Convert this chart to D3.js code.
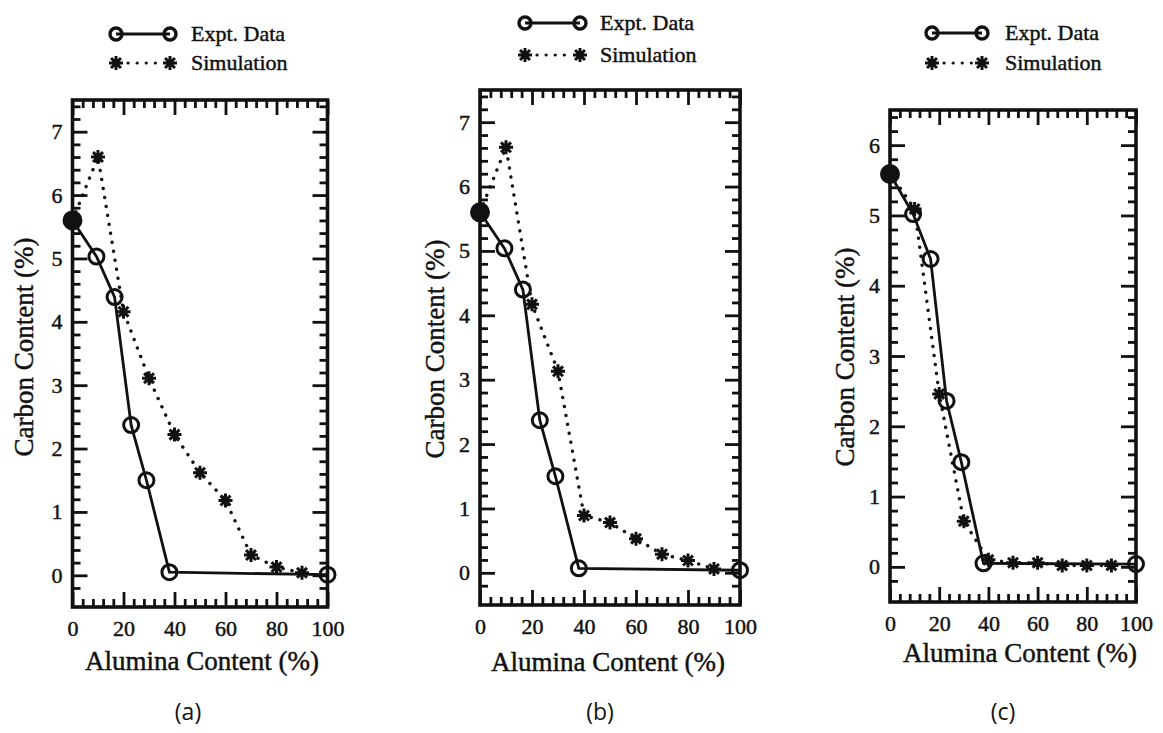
<!DOCTYPE html>
<html>
  <head>
    <title>Carbon vs Alumina Content</title>
    <script src="https://d3js.org/d3.v7.min.js"></script>
    <style>
      body { margin: 0; background: #fff; }
      svg text { font-family: "Liberation Serif", "Times New Roman", serif; fill: #111; }
      svg text.serif { stroke: #111; stroke-width: 0.45; }
      svg text.caption { font-family: "Open Sans", sans-serif; }
    </style>
  </head>
<body>
<svg id="visual" width="1163" height="733" font-family="Liberation Serif"></svg>
<script type="text/javascript">
    // data
    var exptX = [0, 9.4, 16.5, 23, 29, 38, 100];
    var exptA = [5.6, 5.03, 4.39, 2.37, 1.5, 0.05, 0.01];
    var exptB = [5.6, 5.04, 4.4, 2.37, 1.5, 0.07, 0.04];
    var exptC = [5.59, 5.02, 4.38, 2.36, 1.49, 0.05, 0.04];

    var simX = [0, 10, 20, 30, 40, 50, 60, 70, 80, 90];
    var simA = [5.6, 6.6, 4.16, 3.11, 2.22, 1.62, 1.18, 0.32, 0.13, 0.04];
    var simB = [5.6, 6.61, 4.17, 3.13, 0.89, 0.78, 0.53, 0.29, 0.19, 0.06];
    var simC = [5.6, 5.09, 2.46, 0.65, 0.1, 0.06, 0.06, 0.02, 0.02, 0.02];

    var xTicks = [0, 20, 40, 60, 80, 100];
    var yTicksAB = [0, 1, 2, 3, 4, 5, 6, 7];
    var yTicksC = [0, 1, 2, 3, 4, 5, 6];
    var legendNames = ["Expt. Data", "Simulation"];
    var xTitle = "Alumina Content (%)";
    var yTitle = "Carbon Content (%)";
    var captions = ["(a)", "(b)", "(c)"];

    var serif = "'Liberation Serif', 'Times New Roman', serif";
    var svg = d3.select("#visual");

    // 8 armed star used for the simulation points
    function star(cx, cy, r) {
        var p = "";
        for (var i = 0; i < 4; i++) {
            var a = i * Math.PI / 4;
            p += "M" + (cx - r * Math.cos(a)) + "," + (cy - r * Math.sin(a)) +
                 "L" + (cx + r * Math.cos(a)) + "," + (cy + r * Math.sin(a));
        }
        return p;
    }

    function drawStar(g, cx, cy) {
        g.append("path").attr("d", star(cx, cy, 7))
            .attr("stroke", "#111").attr("stroke-width", 3).attr("fill", "none");
        g.append("circle").attr("cx", cx).attr("cy", cy).attr("r", 3.6).attr("fill", "#111");
    }

    function drawPanel(p) {
        var x = d3.scaleLinear().domain([0, 100]).range([p.left, p.right]);
        var y = d3.scaleLinear().domain(p.yDomain).range([p.bottom, p.top]);
        var g = svg.append("g");

        var xMinor = d3.range(4, 100, 4).filter(function(v) { return v % 20 != 0; });
        var yMinor = d3.range(Math.round(p.yDomain[0] * 5) + 1, Math.round(p.yDomain[1] * 5))
            .map(function(v) { return v / 5; })
            .filter(function(v) { return Math.abs(v - Math.round(v)) > 0.01; });

        // ticks on all four sides, pointing inwards
        function ticks(axis, trans, vals, size, labels, pad) {
            var a = g.append("g").attr("transform", trans)
                .call(axis.tickValues(vals).tickSizeInner(-size).tickSizeOuter(0)
                    .tickPadding(pad || 0).tickFormat(labels ? d3.format("d") : ""));
            a.attr("font-family", serif).attr("font-size", 22);
            a.select(".domain").remove();
            a.selectAll("line").attr("stroke", "#111").attr("stroke-width", 2.8);
            a.selectAll("text").attr("class", "serif").attr("fill", "#111")
                .attr("font-family", serif).style("font-family", serif);
            return a;
        }
        ticks(d3.axisBottom(x), "translate(0," + p.bottom + ")", xTicks, 15, true, 13);
        ticks(d3.axisBottom(x), "translate(0," + p.bottom + ")", xMinor, 8);
        ticks(d3.axisTop(x), "translate(0," + p.top + ")", xTicks, 15);
        ticks(d3.axisTop(x), "translate(0," + p.top + ")", xMinor, 8);
        ticks(d3.axisLeft(y), "translate(" + p.left + ",0)", p.yTicks, 15, true, 10);
        ticks(d3.axisLeft(y), "translate(" + p.left + ",0)", yMinor, 8);
        ticks(d3.axisRight(y), "translate(" + p.right + ",0)", p.yTicks, 15);
        ticks(d3.axisRight(y), "translate(" + p.right + ",0)", yMinor, 8);

        g.append("rect")
            .attr("x", p.left).attr("y", p.top)
            .attr("width", p.right - p.left).attr("height", p.bottom - p.top)
            .attr("fill", "none").attr("stroke", "#111").attr("stroke-width", 3.6);

        var line = d3.line()
            .x(function(d) { return x(d[0]); })
            .y(function(d) { return y(d[1]); });

        var sim = d3.zip(simX, p.sim);
        var expt = d3.zip(exptX, p.expt);

        g.append("path").datum(sim).attr("d", line)
            .attr("fill", "none").attr("stroke", "#111").attr("stroke-width", 3.4)
            .attr("stroke-linecap", "round").attr("stroke-dasharray", "0.1 9");

        g.append("path").datum(expt).attr("d", line)
            .attr("fill", "none").attr("stroke", "#111").attr("stroke-width", 2.8);

        sim.forEach(function(d) {
            if (d[0] > 0) drawStar(g, x(d[0]), y(d[1]));
        });

        g.selectAll("circle.expt").data(expt).enter().append("circle")
            .attr("class", "expt")
            .attr("cx", function(d) { return x(d[0]); })
            .attr("cy", function(d) { return y(d[1]); })
            .attr("r", function(d) { return d[0] == 0 ? 8.5 : 7.5; })
            .attr("fill", function(d) { return d[0] == 0 ? "#111" : "#fff"; })
            .attr("fill-opacity", function(d) { return d[0] == 0 ? 1 : 0; })
            .attr("stroke", "#111").attr("stroke-width", 3);

        // axis titles
        g.append("text").attr("class", "serif")
            .attr("x", p.xTitle[0]).attr("y", p.xTitle[1])
            .attr("text-anchor", "middle").attr("font-size", 27).attr("font-family", serif)
            .text(xTitle);
        g.append("text").attr("class", "serif")
            .attr("transform", "translate(" + p.yTitle[0] + "," + p.yTitle[1] + ") rotate(-90)")
            .attr("text-anchor", "middle").attr("dy", "0.35em")
            .attr("font-size", 27).attr("font-family", serif)
            .text(yTitle);

        // legend
        var L = p.legend;
        g.append("line").attr("x1", L.x1).attr("x2", L.x2).attr("y1", L.y1).attr("y2", L.y1)
            .attr("stroke", "#111").attr("stroke-width", 3);
        [L.x1, L.x2].forEach(function(cx) {
            g.append("circle").attr("cx", cx).attr("cy", L.y1).attr("r", 6)
                .attr("fill", "none").attr("stroke", "#111").attr("stroke-width", 3.4);
        });
        g.append("line").attr("x1", L.x1 + 12).attr("x2", L.x2 - 9).attr("y1", L.y2).attr("y2", L.y2)
            .attr("stroke", "#111").attr("stroke-width", 3.2).attr("stroke-linecap", "round")
            .attr("stroke-dasharray", "0.1 9");
        drawStar(g, L.x1, L.y2);
        drawStar(g, L.x2, L.y2);
        g.append("text").attr("class", "serif").attr("x", L.tx).attr("y", L.y1).attr("dy", "0.33em")
            .attr("font-size", 22).attr("font-family", serif).text(legendNames[0]);
        g.append("text").attr("class", "serif").attr("x", L.tx).attr("y", L.y2).attr("dy", "0.33em")
            .attr("font-size", 22).attr("font-family", serif).text(legendNames[1]);

        g.append("text").attr("class", "caption")
            .attr("x", p.caption[0]).attr("y", p.caption[1])
            .attr("text-anchor", "middle").attr("dy", "0.35em").attr("font-size", 23)
            .attr("font-family", "'Open Sans', sans-serif")
            .text(p.label);
    }

    var panels = [
        {left: 72.5, right: 327.5, top: 100, bottom: 607, yDomain: [-0.5, 7.5], yTicks: yTicksAB,
         expt: exptA, sim: simA, xTitle: [202, 670], yTitle: [24, 347],
         legend: {x1: 116, x2: 170, y1: 34, y2: 63, tx: 191}, caption: [188, 712], label: captions[0]},
        {left: 480, right: 740, top: 90, bottom: 605, yDomain: [-0.5, 7.5], yTicks: yTicksAB,
         expt: exptB, sim: simB, xTitle: [608, 671], yTitle: [435, 349],
         legend: {x1: 525, x2: 580, y1: 23, y2: 55, tx: 600}, caption: [600, 712], label: captions[1]},
        {left: 890, right: 1136, top: 110, bottom: 602, yDomain: [-0.5, 6.5], yTicks: yTicksC,
         expt: exptC, sim: simC, xTitle: [1020, 662], yTitle: [845, 357],
         legend: {x1: 932, x2: 982, y1: 33, y2: 63, tx: 1005}, caption: [1003, 712], label: captions[2]}
    ];

    panels.forEach(drawPanel);
</script>
</body>
</html>
